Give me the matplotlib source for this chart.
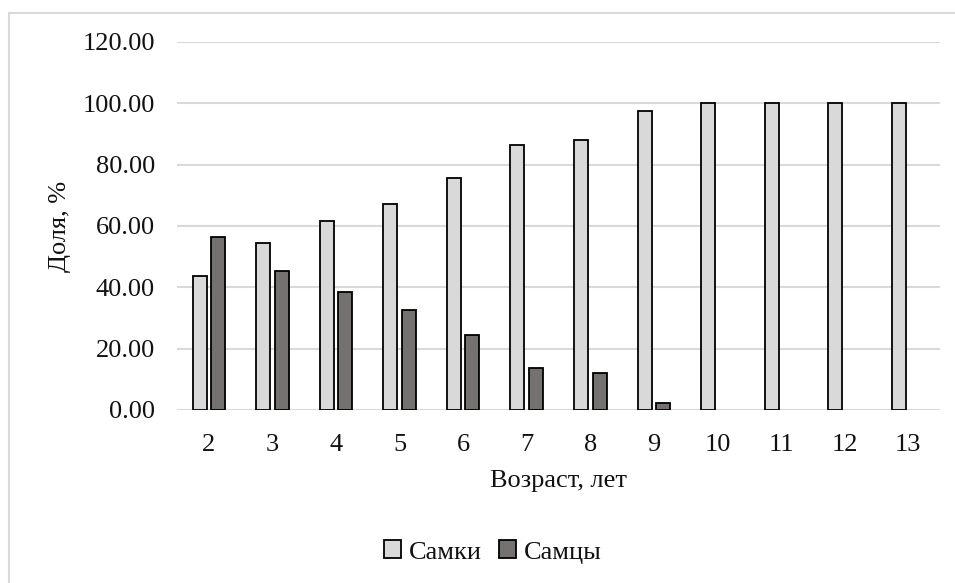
import numpy as np
import matplotlib.pyplot as plt
from matplotlib.patches import Rectangle

# Age classes and share of each sex, %
ages = ['2', '3', '4', '5', '6', '7', '8', '9', '10', '11', '12', '13']
females = [43.6, 54.6, 61.5, 67.3, 75.7, 86.4, 87.9, 97.6, 100.0, 100.0, 100.0, 100.0]
males = [56.4, 45.4, 38.5, 32.7, 24.3, 13.6, 12.1, 2.4, 0.0, 0.0, 0.0, 0.0]
yticks = [0, 20, 40, 60, 80, 100, 120]

plt.rcParams['font.family'] = ['Liberation Serif', 'DejaVu Serif']

W, H = 955, 583
fig = plt.figure(figsize=(W / 100, H / 100), dpi=100)

# light chart-area frame (only top and left edges fall inside the image)
fig.patches.append(Rectangle((9 / W, -0.1), 1.2, 1 - 13 / H + 0.1, transform=fig.transFigure,
                             fill=False, edgecolor='#d9d9d9', linewidth=1.5))

left, right, top, bottom = 177, 940, 42, 410
ax = fig.add_axes([left / W, 1 - bottom / H, (right - left) / W, (bottom - top) / H])

x = np.arange(len(ages))
w = 0.22
off = 0.146
ax.bar(x - off, females, width=w, color='#d9d9d9', edgecolor='black', linewidth=1.3,
       label='Самки', zorder=3)
# no visible mark for zero values
male_vals = np.array(males)
ax.bar(x[male_vals > 0] + off, male_vals[male_vals > 0], width=w, color='#767171',
       edgecolor='black', linewidth=1.3, label='Самцы', zorder=3)

ax.set_xlim(-0.5, len(ages) - 0.5)
ax.set_ylim(0, 120)
ax.set_yticks(yticks)
ax.set_yticklabels([f'{v:.2f}' for v in yticks])
ax.set_xticks(x)
ax.set_xticklabels(ages)
ax.yaxis.grid(True, color='#d9d9d9', linewidth=1.5, zorder=0)
ax.set_axisbelow(True)
for s in ax.spines.values():
    s.set_visible(False)
ax.tick_params(axis='both', length=0, labelsize=19, colors='#111111')
ax.tick_params(axis='y', pad=16)
ax.tick_params(axis='x', pad=17.5)

ax.set_xlabel('Возраст, лет', fontsize=19, color='#111111', labelpad=10)
ax.set_ylabel('Доля, %', fontsize=19, color='#111111', labelpad=8)

handles, labels = ax.get_legend_handles_labels()
fig.legend(handles, labels, loc='center', bbox_to_anchor=(493 / W, 1 - 552 / H), ncol=2,
           frameon=False, fontsize=19, handlelength=0.65, handleheight=0.65,
           handletextpad=0.3, columnspacing=0.63, labelcolor='#111111')

fig.savefig('out.png', dpi=100)
